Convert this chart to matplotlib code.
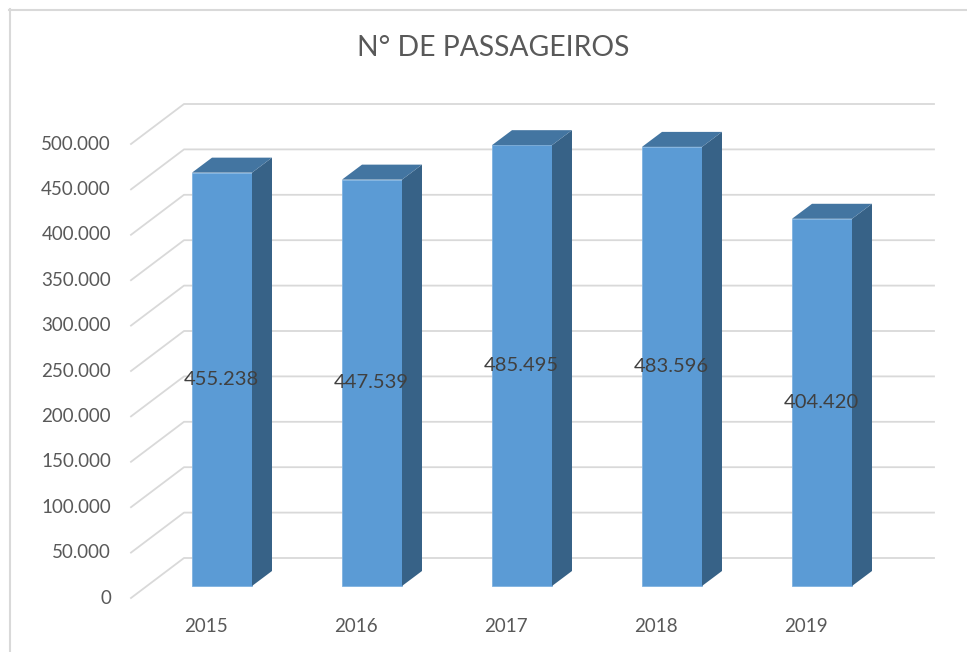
import matplotlib.pyplot as plt
from matplotlib.patches import Polygon, Rectangle
from matplotlib.lines import Line2D

anos = ['2015', '2016', '2017', '2018', '2019']
passageiros = [455238, 447539, 485495, 483596, 404420]
yticks = [0, 50000, 100000, 150000, 200000, 250000, 300000, 350000, 400000, 450000, 500000]
titulo = 'N° DE PASSAGEIROS'

def fmt(v):
    return f'{v:,}'.replace(',', '.')

plt.rcParams['font.family'] = ['Lato', 'DejaVu Sans']

W, H = 967, 652
fig = plt.figure(figsize=(W / 100, H / 100), dpi=100)
fig.patch.set_facecolor('white')

# axes = plane of the bar front faces
ax = fig.add_axes([147 / W, (H - 586) / H, 750 / W, 454 / H])
ax.set_xlim(-0.5, 4.5)
ax.set_ylim(0, 500000)
ax.axis('off')

# pixel -> data units
p0 = ax.transData.transform((0, 0))
p1 = ax.transData.transform((1, 1))
ppx, ppy = p1[0] - p0[0], p1[1] - p0[1]

def d(px, py):
    return px / ppx, py / ppy

fx, fy = d(-16, -12)   # front plane offset
bx, by = d(37, 28)     # back wall offset
sx, sy = d(20, 15)     # bar depth

grid_c = '#D9D9D9'
for v in yticks:
    ax.add_line(Line2D([-0.5 + fx, -0.5 + bx, 4.5 + bx],
                       [v + fy, v + by, v + by],
                       color=grid_c, lw=1.3, clip_on=False, zorder=1))
    ax.text(-0.5 + fx - 20 / ppx, v + fy, fmt(v), ha='right', va='center',
            fontsize=13.5, color='#595959', clip_on=False)

w = 0.4
for i, v in enumerate(passageiros):
    l, r = i - w / 2, i + w / 2
    ax.add_patch(Rectangle((l, 0), w, v, facecolor='#5B9BD5',
                           edgecolor='#7FB2E0', lw=0.6, clip_on=False, zorder=3))
    ax.add_patch(Polygon([(r, 0), (r, v), (r + sx, v + sy), (r + sx, sy)],
                         closed=True, facecolor='#376287', edgecolor='none',
                         clip_on=False, zorder=3))
    ax.add_patch(Polygon([(l, v), (r, v), (r + sx, v + sy), (l + sx, v + sy)],
                         closed=True, facecolor='#4375A1', edgecolor='none',
                         clip_on=False, zorder=3))
    ax.text(i - 1 / ppx, v / 2, fmt(v), ha='center', va='center',
            fontsize=14.5, color='#404040', zorder=5, clip_on=False)
    ax.text(i + fx, fy - 28 / ppy, anos[i], ha='center', va='center',
            fontsize=13.5, color='#595959', clip_on=False)

fig.text(493 / W, 1 - 48 / H, titulo, ha='center', va='center',
         fontsize=20.3, color='#595959')

# chart border
fig.add_artist(Line2D([9.5 / W, 9.5 / W], [0, 1 - 9 / H], transform=fig.transFigure,
                      color=grid_c, lw=1.5))
fig.add_artist(Line2D([9 / W, 1], [1 - 9.5 / H, 1 - 9.5 / H], transform=fig.transFigure,
                      color=grid_c, lw=1.5))

fig.savefig('out.png', dpi=100)
